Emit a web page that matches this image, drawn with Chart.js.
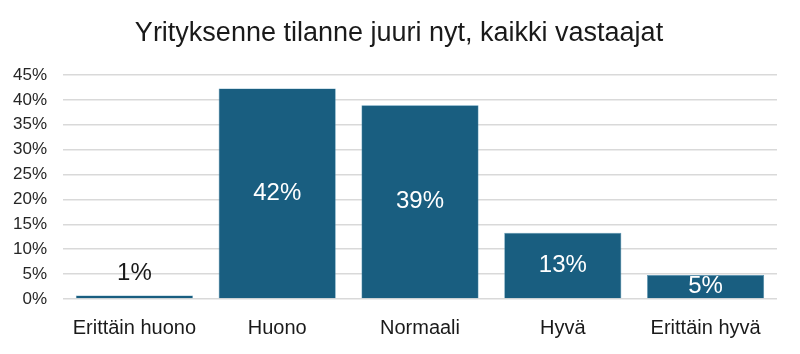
<!DOCTYPE html>
<html>
<head>
<meta charset="utf-8">
<script src="https://cdn.jsdelivr.net/npm/chart.js@4/dist/chart.umd.min.js"></script>
<style>
html,body{margin:0;padding:0;background:#fff;}
#wrap{width:800px;height:354px;position:relative;}
</style>
</head>
<body>
<div id="wrap"><canvas id="c" width="800" height="354"></canvas></div>
<script>
const title = "Yrityksenne tilanne juuri nyt, kaikki vastaajat";
const categories = ["Erittäin huono", "Huono", "Normaali", "Hyvä", "Erittäin hyvä"];
const values = [0.7, 42.3, 38.9, 13.3, 4.8];
const valueLabels = ["1%", "42%", "39%", "13%", "5%"];
const yTicks = [0, 5, 10, 15, 20, 25, 30, 35, 40, 45];

const labelPlugin = {
  id: 'barLabels',
  afterDatasetsDraw(chart) {
    const ctx = chart.ctx;
    const meta = chart.getDatasetMeta(0);
    ctx.save();
    ctx.font = '24px "Liberation Sans", Arial, sans-serif';
    ctx.textAlign = 'center';
    ctx.textBaseline = 'middle';
    meta.data.forEach((bar, i) => {
      const h = bar.base - bar.y;
      if (h < 20) {
        ctx.fillStyle = '#1a1a1a';
        ctx.fillText(valueLabels[i], bar.x, bar.y - 22);
      } else {
        ctx.fillStyle = '#ffffff';
        ctx.fillText(valueLabels[i], bar.x, (bar.y + bar.base) / 2);
      }
    });
    ctx.restore();
  }
};

const titlePlugin = {
  id: 'customTitle',
  afterDraw(chart) {
    const ctx = chart.ctx;
    ctx.save();
    ctx.font = '27px "Liberation Sans", Arial, sans-serif';
    ctx.fillStyle = '#1a1a1a';
    ctx.textAlign = 'center';
    ctx.textBaseline = 'middle';
    ctx.fillText(title, 399, 34);
    ctx.restore();
  }
};

new Chart(document.getElementById('c'), {
  type: 'bar',
  data: {
    labels: categories,
    datasets: [{
      data: values,
      backgroundColor: '#195e80',
      borderColor: '#4f8fae',
      borderWidth: 0.6,
      barPercentage: 0.82,
      categoryPercentage: 1.0
    }]
  },
  options: {
    responsive: false,
    animation: false,
    devicePixelRatio: 1,
    layout: { padding: { left: 0, right: 23, top: 75, bottom: 0 } },
    plugins: {
      legend: { display: false },
      tooltip: { enabled: false },
      title: { display: false }
    },
    scales: {
      y: {
        min: 0,
        max: 45,
        afterBuildTicks(scale) { scale.ticks = yTicks.map(v => ({ value: v })); },
        afterFit(scale) { scale.width = 63; },
        ticks: {
          padding: 16,
          color: '#262626',
          font: { family: '"Liberation Sans", Arial, sans-serif', size: 17 },
          callback: v => v + '%'
        },
        grid: { color: '#d9d9d9', lineWidth: 1.5, drawTicks: false },
        border: { display: false }
      },
      x: {
        afterFit(scale) { scale.height = 55; },
        ticks: {
          color: '#1a1a1a',
          padding: 17,
          font: { family: '"Liberation Sans", Arial, sans-serif', size: 20 },
          maxRotation: 0
        },
        grid: { display: false, drawTicks: false },
        border: { display: false }
      }
    }
  },
  plugins: [labelPlugin, titlePlugin]
});
</script>
</body>
</html>
